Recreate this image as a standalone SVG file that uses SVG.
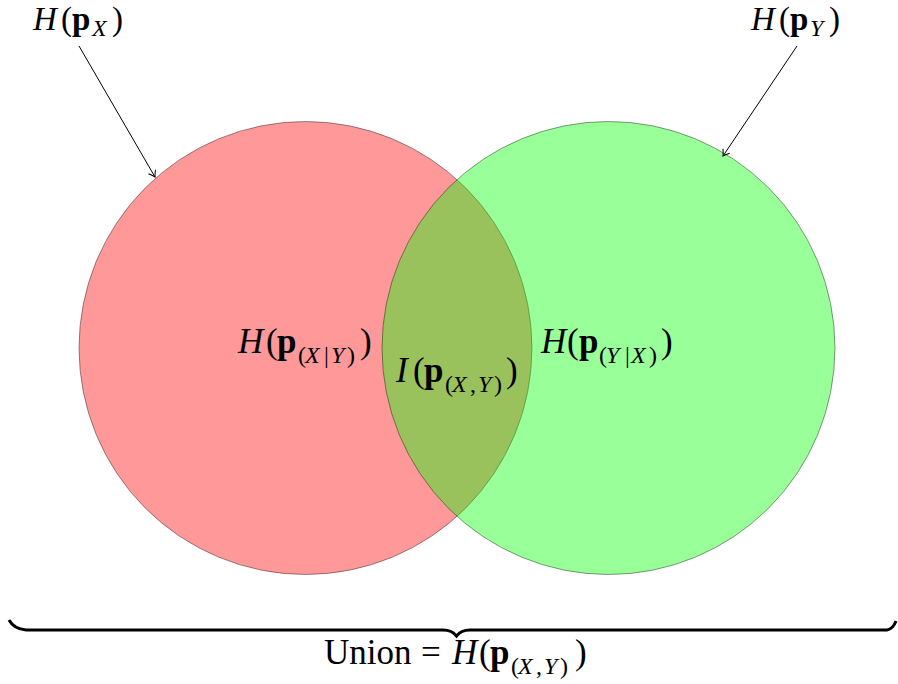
<svg xmlns="http://www.w3.org/2000/svg" width="898" height="684" viewBox="0 0 898 684">
  <defs>
    <marker id="arr" markerWidth="12" markerHeight="12" refX="0" refY="0" viewBox="-8 -6 10 12" orient="auto" markerUnits="userSpaceOnUse">
      <path d="M-6,-4 Q-2,-1 0,0 Q-2,1 -6,4" fill="none" stroke="#000" stroke-width="1"/>
    </marker>
  </defs>
  <style>
    text { font-family: "Liberation Serif", "Times New Roman", serif; fill: #000; }
    .m { font-size: 35px; }
    .t { font-size: 33px; }
    .s { font-size: 24px; }
    .i { font-style: italic; }
    .b { font-weight: bold; }
    .circle { stroke: #000; stroke-opacity: 0.4; stroke-width: 1; }
  </style>
  <rect x="0" y="0" width="898" height="684" fill="#fff"/>

  <g id="setX">
    <circle class="circle" cx="305.5" cy="348" r="226.5" fill="#ff0000" fill-opacity="0.4"/>
  </g>
  <g id="setY">
    <circle class="circle" cx="608.5" cy="348" r="226.5" fill="#00ff00" fill-opacity="0.4"/>
  </g>

  <g id="connectors" stroke="#000" stroke-width="1" fill="none">
    <line x1="79" y1="46" x2="155" y2="177" marker-end="url(#arr)"/>
    <line x1="797" y1="46" x2="723" y2="156" marker-end="url(#arr)"/>
    <path d="M9,620 Q14,629 26,630 L443,630 Q452,630 456.5,636 Q461,630 470,630 L887,630 Q893,629 896,621" stroke-width="3"/>
  </g>

  <g id="label-HX">
    <text class="t" y="30"><tspan class="i" x="33">H</tspan><tspan x="61">(</tspan><tspan class="b" x="72">p</tspan><tspan class="s i" x="92" y="36">X</tspan><tspan x="112" y="30">)</tspan></text>
  </g>
  <g id="label-HY">
    <text class="t" y="30"><tspan class="i" x="751">H</tspan><tspan x="779">(</tspan><tspan class="b" x="790">p</tspan><tspan class="s i" x="810" y="36">Y</tspan><tspan x="829" y="30">)</tspan></text>
  </g>
  <g id="label-HXgY">
    <text class="m" y="353"><tspan class="i" x="238">H</tspan><tspan x="266">(</tspan><tspan class="b" x="277">p</tspan><tspan class="s" x="298" y="363">(</tspan><tspan class="s i" x="305" y="363">X</tspan><tspan class="s" x="324" y="363">|</tspan><tspan class="s i" x="331" y="363">Y</tspan><tspan class="s" x="347" y="363">)</tspan><tspan x="360" y="353">)</tspan></text>
  </g>
  <g id="label-IXY">
    <text class="m" y="382"><tspan class="i" x="396">I</tspan><tspan x="413">(</tspan><tspan class="b" x="424">p</tspan><tspan class="s" x="445" y="392">(</tspan><tspan class="s i" x="452" y="392">X</tspan><tspan class="s" x="470" y="392">,</tspan><tspan class="s i" x="478" y="392">Y</tspan><tspan class="s" x="494" y="392">)</tspan><tspan x="506" y="382">)</tspan></text>
  </g>
  <g id="label-HYgX">
    <text class="m" y="353"><tspan class="i" x="541">H</tspan><tspan x="567">(</tspan><tspan class="b" x="579">p</tspan><tspan class="s" x="599" y="363">(</tspan><tspan class="s i" x="606" y="363">Y</tspan><tspan class="s" x="625" y="363">|</tspan><tspan class="s i" x="631" y="363">X</tspan><tspan class="s" x="649" y="363">)</tspan><tspan x="661" y="353">)</tspan></text>
  </g>
  <g id="label-union">
    <text class="m" y="664"><tspan x="324">Union</tspan><tspan x="421">=</tspan><tspan class="i" x="452">H</tspan><tspan x="479">(</tspan><tspan class="b" x="490">p</tspan><tspan class="s" x="511" y="674">(</tspan><tspan class="s i" x="518" y="674">X</tspan><tspan class="s" x="536" y="674">,</tspan><tspan class="s i" x="544" y="674">Y</tspan><tspan class="s" x="560" y="674">)</tspan><tspan x="575" y="664">)</tspan></text>
  </g>
</svg>
